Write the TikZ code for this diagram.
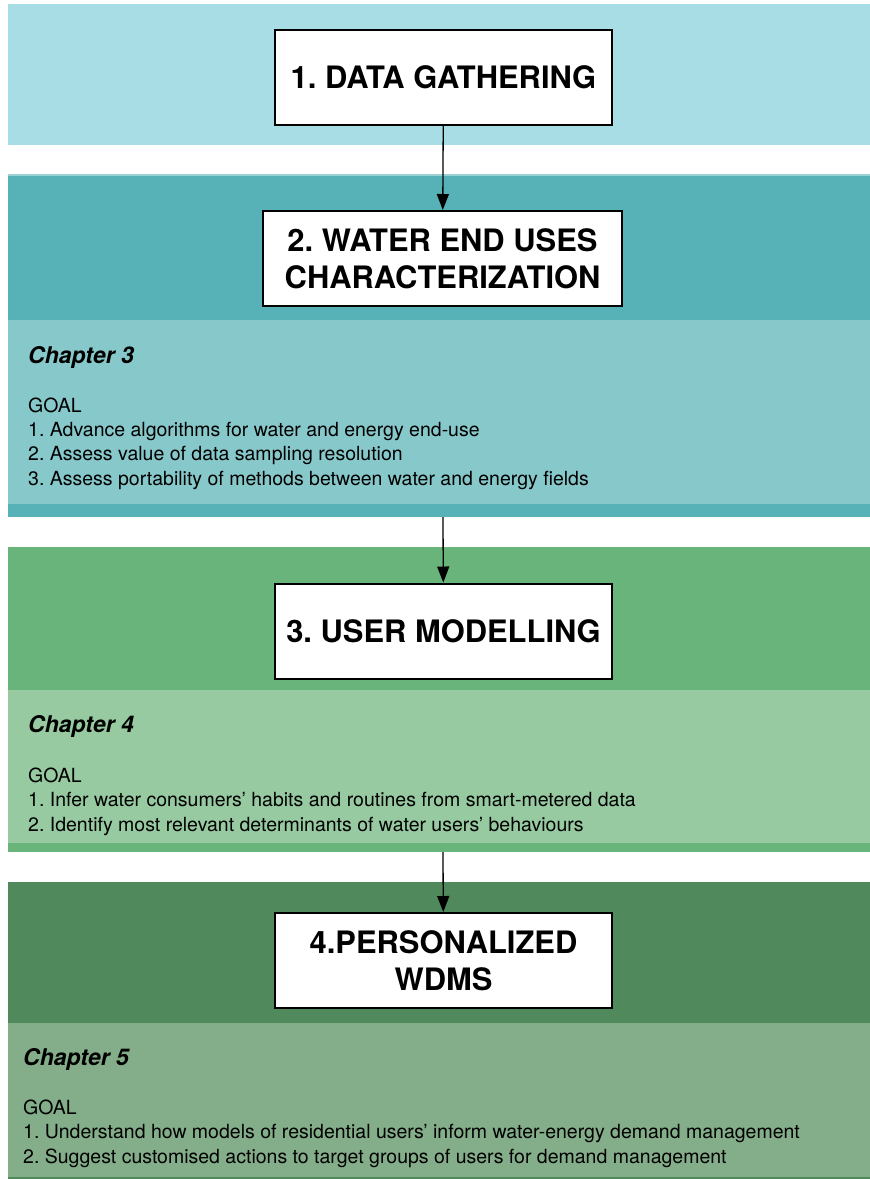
\documentclass[tikz,border=0pt]{standalone}
\usepackage{fontspec}
\setmainfont{TeX Gyre Heros}
\usetikzlibrary{arrows.meta}
\definecolor{gatherband}{HTML}{A9DDE6}
\definecolor{endusehead}{HTML}{56B2B6}
\definecolor{endusebody}{HTML}{87C8CB}
\definecolor{userhead}{HTML}{69B47A}
\definecolor{userbody}{HTML}{97CAA1}
\definecolor{wdmshead}{HTML}{508A5C}
\definecolor{wdmsbody}{HTML}{84AE8A}
\frenchspacing

\begin{document}
\begin{tikzpicture}[x=1pt,y=-1pt,
    stage/.style={draw,line width=2pt,fill=white,minimum width=337pt,minimum height=95pt,inner sep=0pt,align=center,font=\fontsize{30.9}{37}\selectfont\bfseries},
    chapter/.style={anchor=base west,inner sep=0pt,font=\fontsize{23}{27}\selectfont\bfseries\itshape},
    goals/.style={anchor=base west,inner sep=0pt,align=left,font=\fontsize{19.5}{24.3}\selectfont},
    flow/.style={-{Triangle[width=12pt,length=16pt]},line width=1.3pt}]
    \useasboundingbox (0,0) rectangle (870,1179);
    \fill[gatherband] (8,4) rectangle (870,145);
    \fill[endusehead] (8,174) rectangle (870,517);
    \fill[endusehead!60!white] (8,174) rectangle (870,175.5);
    \fill[endusebody] (8,320) rectangle (870,504);
    \fill[userhead] (8,547) rectangle (870,852);
    \fill[userbody] (8,690) rectangle (870,843);
    \fill[wdmshead] (8,882) rectangle (870,1179);
    \fill[wdmsbody] (8,1023) rectangle (870,1177);

    \node[stage] (gather) at (443.5,77.5) {1. DATA GATHERING};
    \node[stage,minimum width=359pt] (enduse) at (442.5,258.5) {2. WATER END USES\\CHARACTERIZATION};
    \node[stage] (user) at (443.5,631) {3. USER MODELLING};
    \node[stage] (wdms) at (443.5,960.5) {4.PERSONALIZED\\WDMS};

    % goal lists sit on the baseline of their last line
    \node[chapter] (ch3) at (28,363) {Chapter 3};
    \node[goals] (goal3) at (28,485) {GOAL\\1. Advance algorithms for water and energy end-use\\2. Assess value of data sampling resolution\\3. Assess portability of methods between water and energy fields};
    \node[chapter] (ch4) at (28,732) {Chapter 4};
    \node[goals] (goal4) at (28,831) {GOAL\\1. Infer water consumers’ habits and routines from smart-metered data\\2. Identify most relevant determinants of water users’ behaviours};
    \node[chapter] (ch5) at (23,1065) {Chapter 5};
    \node[goals] (goal5) at (23,1163) {GOAL\\1. Understand how models of residential users’ inform water-energy demand management\\2. Suggest customised actions to target groups of users for demand management};

    \coordinate (enduseout) at (443,517);
    \coordinate (userout) at (443,852);
    \draw[flow] (gather) -- (enduse);
    \draw[flow] (enduseout) -- (user);
    \draw[flow] (userout) -- (wdms);
\end{tikzpicture}
\end{document}
